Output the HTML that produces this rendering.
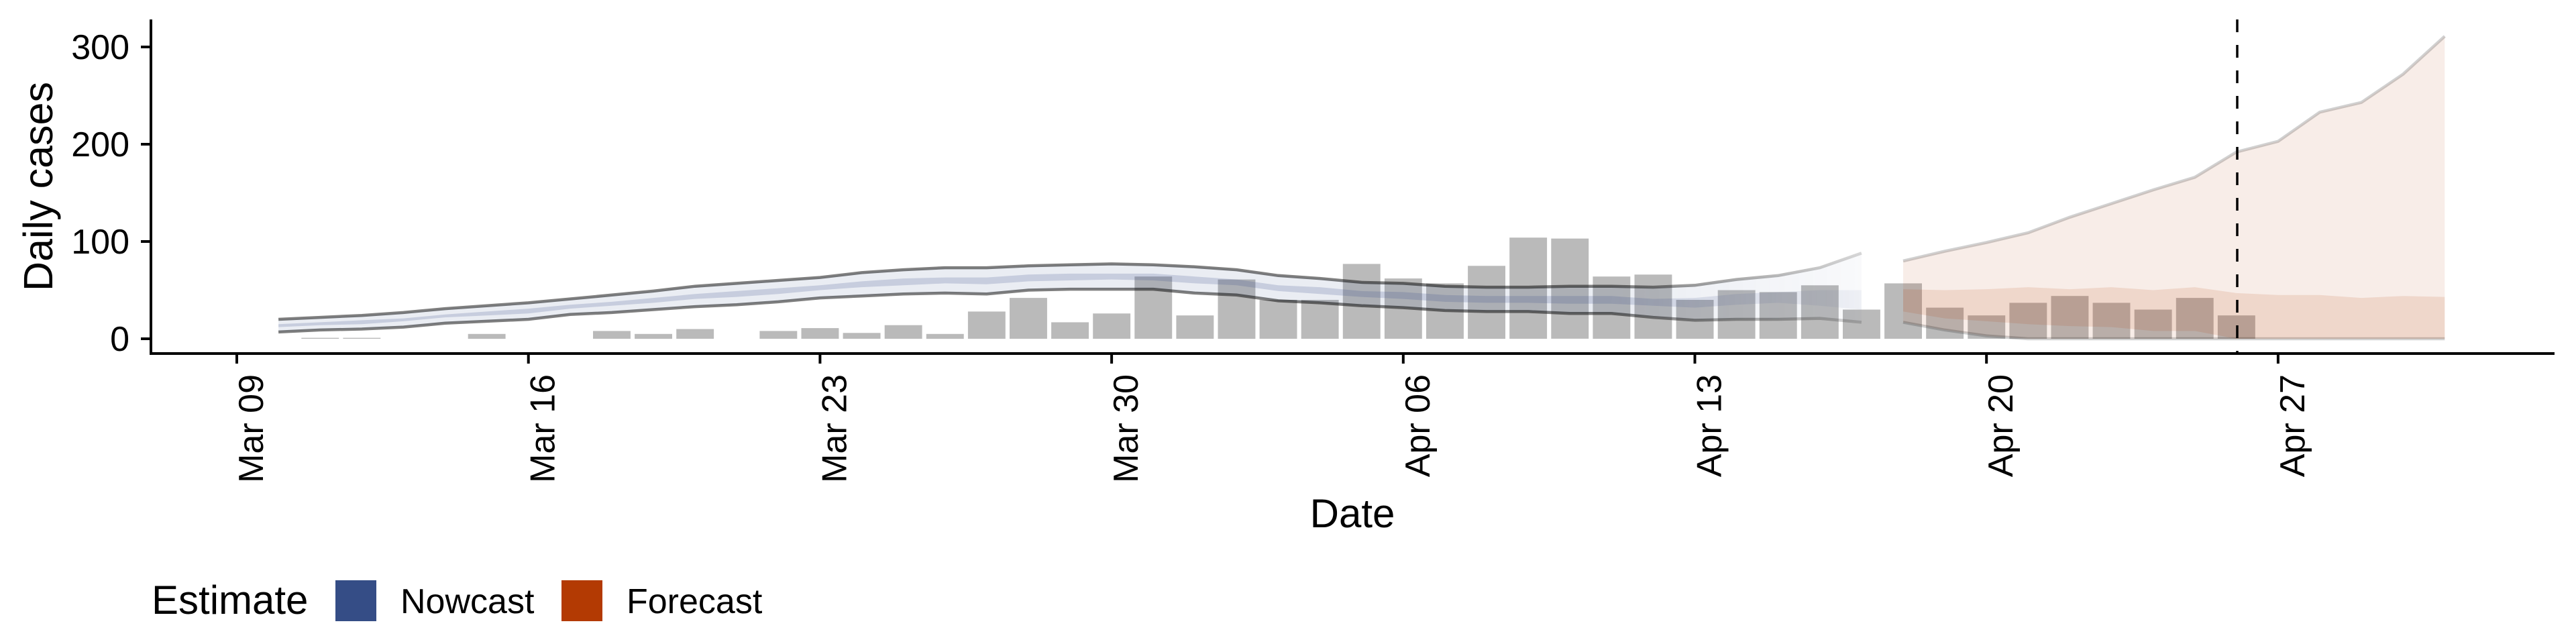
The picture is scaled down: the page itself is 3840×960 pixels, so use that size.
<!DOCTYPE html>
<html><head><meta charset="utf-8"><style>
html,body{margin:0;padding:0;background:#fff;}
svg{display:block;font-family:"Liberation Sans",sans-serif;}
</style></head><body>
<svg id="chart" width="3840" height="960" viewBox="0 0 3840 960">
<defs>
<linearGradient id="fadeGrad" gradientUnits="userSpaceOnUse" x1="2400" y1="0" x2="2780" y2="0">
<stop offset="0" stop-color="#fff" stop-opacity="1"/>
<stop offset="1" stop-color="#fff" stop-opacity="0.3"/>
</linearGradient>
<mask id="fadeMask" maskUnits="userSpaceOnUse" x="0" y="0" width="3840" height="960">
<rect x="0" y="0" width="3840" height="960" fill="url(#fadeGrad)"/>
</mask>
</defs>
<g id="bars"></g>
<g id="nowcast" mask="url(#fadeMask)"></g>
<g id="forecast"></g>
<line x1="3335" y1="29" x2="3335" y2="527" stroke="#000" stroke-width="3.5" stroke-dasharray="19 19"/>
<g id="axes">
<line x1="225" y1="29" x2="225" y2="529" stroke="#000" stroke-width="4"/>
<line x1="223" y1="527" x2="3808" y2="527" stroke="#000" stroke-width="4"/>
</g>
<g id="yticks"></g>
<g id="xticks"></g>
<text x="0" y="0" transform="translate(78,278) rotate(-90)" text-anchor="middle" font-size="61" fill="#000">Daily cases</text>
<text x="2016" y="786" text-anchor="middle" font-size="60" fill="#000">Date</text>
<g>
<text x="226" y="915" font-size="60" fill="#000">Estimate</text>
<rect x="500" y="865" width="61" height="61" fill="#354d86"/>
<text x="597" y="914" font-size="52" fill="#000">Nowcast</text>
<rect x="837" y="865" width="61" height="61" fill="#b33a03"/>
<text x="934" y="914" font-size="52" fill="#000">Forecast</text>
</g>
</svg>
<script>
// day index 0 = Mar 09
const barDays = [2,3,6,9,10,11,13,14,15,16,17,18,19,20,21,22,23,24,25,26,27,28,29,30,31,32,33,34,35,36,37,38,39,40,41,42,43,44,45,46,47,48];
const barValues = [1,1,5,8,5,10,8,11,6,14,5,28,42,17,26,64,24,61,40,40,77,62,57,75,104,103,64,66,40,50,48,55,30,57,32,24,37,44,37,30,42,24];
const nowDays = [1,2,3,4,5,6,7,8,9,10,11,12,13,14,15,16,17,18,19,20,21,22,23,24,25,26,27,28,29,30,31,32,33,34,35,36,37,38,39];
const nowUpper = [20,22,24,27,31,34,37,41,45,49,54,57,60,63,68,71,73,73,75,76,77,76,74,71,65,62,58,57,54,53,53,54,54,53,55,61,65,73,88];
const nowLower = [7,9,10,12,16,18,20,25,27,30,33,35,38,42,44,46,47,46,50,51,51,51,47,45,39,37,34,32,29,28,28,26,26,22,19,20,20,21,17];
const nowInnerUpper = [15,17,19,21,25,28,31,35,38,42,46,49,52,55,59,62,63,63,66,67,67,67,64,61,55,53,49,48,45,44,44,44,44,41,42,46,48,50,50];
const nowInnerLower = [12,14,15,18,22,24,26,31,34,37,41,43,46,50,53,55,57,56,59,60,61,60,57,55,49,46,43,41,38,37,37,36,36,34,32,35,37,34,30];
const fcDays = [40,41,42,43,44,45,46,47,48,49,50,51,52,53];
const fcUpper = [80,90,99,109,125,139,153,166,192,203,233,243,272,311];
const fcLower = [17,9,3,0,0,0,0,0,0,0,0,0,0,0];
const fcInnerUpper = [51,50,51,53,51,53,50,53,47,45,45,42,44,43];
const fcInnerLower = [28,21,18,15,13,12,8,8,0,0,0,0,0,0];
const yTicks = [0,100,200,300];
const xTickDays = [0,7,14,21,28,35,42,49];
const xTickLabels = ["Mar 09","Mar 16","Mar 23","Mar 30","Apr 06","Apr 13","Apr 20","Apr 27"];

const NS = "http://www.w3.org/2000/svg";
function xs(d){ return 353 + d*62.1; }
function ys(v){ return 505 - v*1.45; }
function mk(tag, attrs, parent){
  const e = document.createElementNS(NS, tag);
  for (const k in attrs) e.setAttribute(k, attrs[k]);
  parent.appendChild(e);
  return e;
}
function areaPath(days, up, lo){
  let d = "";
  days.forEach((t,i)=>{ d += (i? "L":"M") + xs(t).toFixed(1) + "," + ys(up[i]).toFixed(1); });
  for (let i=days.length-1;i>=0;i--) d += "L" + xs(days[i]).toFixed(1) + "," + ys(lo[i]).toFixed(1);
  return d + "Z";
}
function linePath(days, v){
  let d = "";
  days.forEach((t,i)=>{ d += (i? "L":"M") + xs(t).toFixed(1) + "," + ys(v[i]).toFixed(1); });
  return d;
}
const gBars = document.getElementById("bars");
barDays.forEach((t,i)=>{
  const w = 62.1*0.9;
  const r = mk("rect", {x:(xs(t)-w/2).toFixed(1), y:ys(barValues[i]).toFixed(1), width:w.toFixed(1), height:(barValues[i]*1.45).toFixed(1), fill:"#bababa"}, gBars);
  
  
});
const gN = document.getElementById("nowcast");
let e;
e = mk("path", {d:areaPath(nowDays, nowUpper, nowLower), fill:"#354d86", "fill-opacity":"0.1"}, gN);


e = mk("path", {d:areaPath(nowDays, nowInnerUpper, nowInnerLower), fill:"#354d86", "fill-opacity":"0.2"}, gN);


e = mk("path", {d:linePath(nowDays, nowUpper), fill:"none", stroke:"#000", "stroke-opacity":"0.5", "stroke-width":"4.5"}, gN);


e = mk("path", {d:linePath(nowDays, nowLower), fill:"none", stroke:"#000", "stroke-opacity":"0.5", "stroke-width":"4.5"}, gN);


const gF = document.getElementById("forecast");
e = mk("path", {d:areaPath(fcDays, fcUpper, fcLower), fill:"#b33a03", "fill-opacity":"0.09"}, gF);


e = mk("path", {d:areaPath(fcDays, fcInnerUpper, fcInnerLower), fill:"#b33a03", "fill-opacity":"0.12"}, gF);


e = mk("path", {d:linePath(fcDays, fcUpper), fill:"none", stroke:"#000", "stroke-opacity":"0.18", "stroke-width":"4.5"}, gF);


e = mk("path", {d:linePath(fcDays, fcLower), fill:"none", stroke:"#000", "stroke-opacity":"0.18", "stroke-width":"4.5"}, gF);


const gY = document.getElementById("yticks");
yTicks.forEach(v=>{
  const l = mk("line", {x1:210, x2:225, y1:ys(v), y2:ys(v), stroke:"#000", "stroke-width":"4"}, gY);
  
  
  const t = mk("text", {x:193, y:ys(v)+18, "text-anchor":"end", "font-size":"52", fill:"#000"}, gY);
  t.textContent = v;
  
  
});
const gX = document.getElementById("xticks");
xTickDays.forEach((d,i)=>{
  const x = xs(d);
  const l = mk("line", {x1:x, x2:x, y1:527, y2:542, stroke:"#000", "stroke-width":"4"}, gX);
  
  
  const t = mk("text", {x:0, y:0, transform:"translate(" + (x+39).toFixed(1) + ",558) rotate(-90)", "text-anchor":"end", "font-size":"52", fill:"#000"}, gX);
  t.textContent = xTickLabels[i];
  
  
});
</script>
</body></html>
